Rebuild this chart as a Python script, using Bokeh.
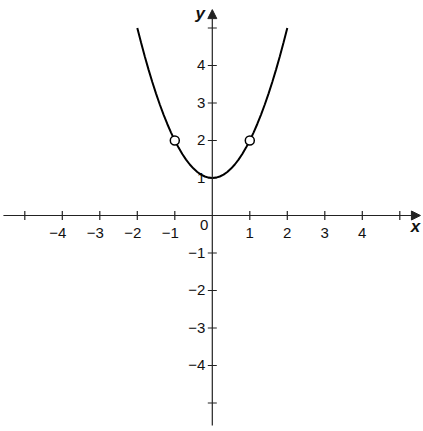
from bokeh.plotting import figure
from bokeh.models import Range1d, Arrow, NormalHead
from bokeh.core.properties import value
from bokeh.embed import file_html
from bokeh.resources import INLINE
import math

# ---- data ----
curve_x = [-2.0, -1.9, -1.8, -1.7, -1.6, -1.5, -1.4, -1.3, -1.2, -1.1, -1.0,
           -0.9, -0.8, -0.7, -0.6, -0.5, -0.4, -0.3, -0.2, -0.1, 0.0,
           0.1, 0.2, 0.3, 0.4, 0.5, 0.6, 0.7, 0.8, 0.9, 1.0,
           1.1, 1.2, 1.3, 1.4, 1.5, 1.6, 1.7, 1.8, 1.9, 2.0]
curve_y = [5.0, 4.61, 4.24, 3.89, 3.56, 3.25, 2.96, 2.69, 2.44, 2.21, 2.0,
           1.81, 1.64, 1.49, 1.36, 1.25, 1.16, 1.09, 1.04, 1.01, 1.0,
           1.01, 1.04, 1.09, 1.16, 1.25, 1.36, 1.49, 1.64, 1.81, 2.0,
           2.21, 2.44, 2.69, 2.96, 3.25, 3.56, 3.89, 4.24, 4.61, 5.0]
hole_x = [-1, 1]
hole_y = [2, 2]

x_ticks = [-5, -4, -3, -2, -1, 1, 2, 3, 4, 5]
y_ticks = [-5, -4, -3, -2, -1, 1, 2, 3, 4, 5]
x_label_vals = [-4, -3, -2, -1, 1, 2, 3, 4]
x_label_text = ["\u22124", "\u22123", "\u22122", "\u22121", "1", "2", "3", "4"]
y_label_vals = [4, 3, 2, 1, -1, -2, -3, -4]
y_label_text = ["4", "3", "2", "1", "\u22121", "\u22122", "\u22123", "\u22124"]

AX = "#222222"
FONT = value("Liberation Sans")

p = figure(width=423, height=431, output_backend="svg", toolbar_location=None,
           x_range=Range1d(-5.648, 5.632), y_range=Range1d(-5.76, 5.733),
           x_axis_type=None, y_axis_type=None, min_border=0)
p.grid.visible = False
p.outline_line_color = None
p.background_fill_color = "white"
p.border_fill_color = "white"

# axes with arrows
p.add_layout(Arrow(x_start=-5.57, y_start=0, x_end=5.55, y_end=0, line_color=AX, line_width=1.2,
                   end=NormalHead(size=9, fill_color=AX, line_color=AX, line_width=1)))
p.add_layout(Arrow(x_start=0, y_start=-5.6, x_end=0, y_end=5.49, line_color=AX, line_width=1.2,
                   end=NormalHead(size=9, fill_color=AX, line_color=AX, line_width=1)))

# ticks
p.scatter(x=x_ticks, y=[0] * len(x_ticks), marker="dash", size=9, angle=math.pi / 2,
          line_color=AX, line_width=1.2)
p.scatter(x=[0] * len(y_ticks), y=y_ticks, marker="dash", size=9,
          line_color=AX, line_width=1.2)

# tick labels
p.text(x=x_label_vals, y=[0] * len(x_label_vals), text=x_label_text,
       text_align="right", text_baseline="middle", x_offset=4, y_offset=18,
       text_font=FONT, text_font_size="15px", text_color="#111111")
p.text(x=[0] * len(y_label_vals), y=y_label_vals, text=y_label_text,
       text_align="right", text_baseline="middle", x_offset=-7, y_offset=0,
       text_font=FONT, text_font_size="15px", text_color="#111111")
p.text(x=[0], y=[0], text=["0"], text_align="right", text_baseline="middle",
       x_offset=-4, y_offset=10, text_font=FONT, text_font_size="15px", text_color="#111111")

# axis titles
p.text(x=[5.419], y=[0], text=["x"], text_align="center", text_baseline="middle",
       x_offset=0, y_offset=11, text_font=FONT, text_font_size="17px",
       text_font_style="bold italic", text_color="#111111")
p.text(x=[0], y=[5.49], text=["y"], text_align="center", text_baseline="middle",
       x_offset=-12, y_offset=4, text_font=FONT, text_font_size="17px",
       text_font_style="bold italic", text_color="#111111")

# curve and holes
p.line(curve_x, curve_y, line_color="black", line_width=2)
p.scatter(hole_x, hole_y, marker="circle", size=9, fill_color="white",
          line_color="black", line_width=1.5)

open("out.html", "w").write(file_html(p, INLINE))
